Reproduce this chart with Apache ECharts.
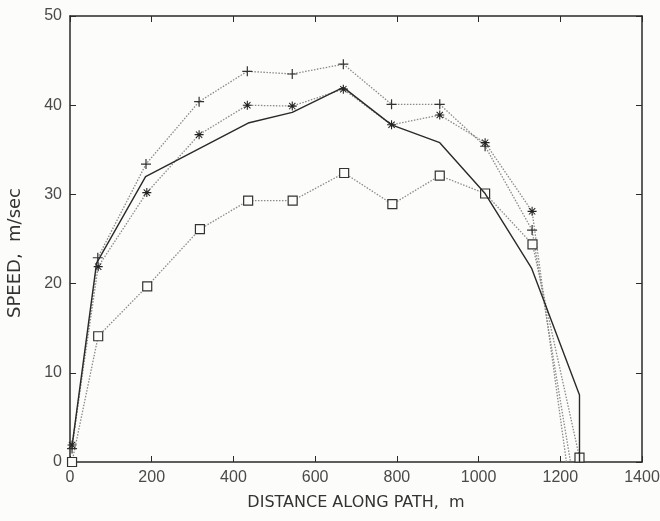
<!DOCTYPE html>
<html>
<head>
<meta charset="utf-8">
<script src="https://cdn.jsdelivr.net/npm/echarts@6/dist/echarts.min.js"></script>
<style>
  html, body { margin: 0; padding: 0; background: #fcfcfa; }
  #chart_id { width: 660px; height: 521px; }
</style>
</head>
<body>
<div id="chart_id"></div>
<script>
// values: [distance m, speed m/sec]
var solidLine = [[5, 1.8], [65, 22.3], [185, 32.0], [436, 38.0], [544, 39.2], [669, 42.0],
                 [787, 37.8], [905, 35.8], [1016, 30.1], [1130, 21.7], [1247, 7.5], [1247, 0]];
var plusData = [[5, 1.5], [68, 22.9], [186, 33.4], [316, 40.4], [434, 43.8], [544, 43.5],
                [669, 44.6], [787, 40.1], [905, 40.1], [1016, 35.4], [1131, 26.0], [1225, 0]];
var starData = [[5, 1.9], [69, 21.9], [188, 30.2], [316, 36.7], [434, 40.0], [544, 39.9],
                [669, 41.8], [787, 37.8], [905, 38.9], [1016, 35.8], [1131, 28.1], [1215, 0]];
var squareData = [[5, 0], [69, 14.1], [189, 19.7], [318, 26.1], [436, 29.3], [545, 29.3],
                  [671, 32.4], [789, 28.9], [905, 32.1], [1016, 30.1], [1132, 24.4], [1247, 0.5]];

var xTicks = { min: 0, max: 1400, interval: 200 };
var yTicks = { min: 0, max: 50, interval: 10 };

var PLUS = 'path://M0,4.4H10V5.6H0Z M4.4,0H5.6V10H4.4Z';
var STAR = 'path://M0,4.4H10V5.6H0Z M4.4,0H5.6V10H4.4Z M1.1,1.9L1.9,1.1L8.9,8.1L8.1,8.9Z M8.1,1.1L8.9,1.9L1.9,8.9L1.1,8.1Z';

var font = '"Liberation Sans", Arial, sans-serif';
var nameFont = '"DejaVu Sans", sans-serif';
var axisColor = '#2a2a2a';

function boxAxis(pos, range, show) {
  return {
    type: 'value',
    position: pos,
    min: range.min,
    max: range.max,
    interval: range.interval,
    axisLine: { show: true, onZero: false, lineStyle: { color: axisColor, width: 1.5 } },
    axisTick: { show: true, inside: true, length: 6, lineStyle: { color: axisColor, width: 1 } },
    axisLabel: {
      show: show, color: '#4a4a4a', fontFamily: font, fontSize: 16, margin: 8,
      showMinLabel: true, showMaxLabel: true,
      formatter: function (v) { return String(v); }
    },
    splitLine: { show: false }
  };
}

var xBottom = boxAxis('bottom', xTicks, true);
xBottom.name = 'DISTANCE ALONG PATH,  m';
xBottom.nameLocation = 'middle';
xBottom.nameGap = 33;
xBottom.nameTextStyle = { color: '#333', fontFamily: nameFont, fontSize: 16 };

var yLeft = boxAxis('left', yTicks, true);
yLeft.name = 'SPEED,  m/sec';
yLeft.nameLocation = 'middle';
yLeft.nameGap = 46;
yLeft.nameTextStyle = { color: '#333', fontFamily: nameFont, fontSize: 18, padding: [0, 28, 0, 0] };

// no marker where a dotted curve runs down to the axis
function hideLast(data) {
  return data.map(function (p, i) {
    return i === data.length - 1 ? { value: p, symbol: 'none' } : p;
  });
}

function dotted(name, data, symbol, size, itemStyle) {
  return {
    name: name,
    type: 'line',
    data: data,
    symbol: symbol,
    symbolSize: size,
    showAllSymbol: true,
    lineStyle: { color: '#8a8a8a', width: 1.3, type: [1.5, 1.5] },
    itemStyle: itemStyle,
    z: 3
  };
}

var chart = echarts.init(document.getElementById('chart_id'));
chart.setOption({
  animation: false,
  backgroundColor: '#fcfcfa',
  grid: { left: 70, right: 18, top: 16, bottom: 59, outerBoundsMode: 'none' },
  xAxis: [xBottom, boxAxis('top', xTicks, false)],
  yAxis: [yLeft, boxAxis('right', yTicks, false)],
  series: [
    {
      name: 'solid',
      type: 'line',
      data: solidLine,
      symbol: 'none',
      lineStyle: { color: '#2a2a2a', width: 1.4 },
      z: 4
    },
    dotted('plus', hideLast(plusData), PLUS, 10, { color: '#333' }),
    dotted('star', hideLast(starData), STAR, 9, { color: '#222' }),
    dotted('square', squareData, 'rect', 9, { color: '#fcfcfa', borderColor: '#333', borderWidth: 1.2 })
  ]
});
</script>
</body>
</html>
